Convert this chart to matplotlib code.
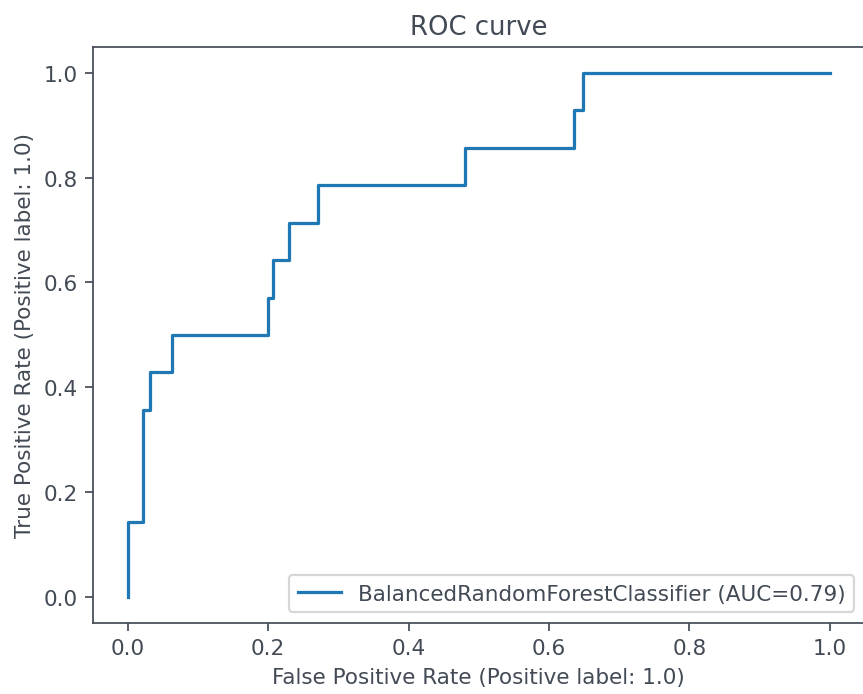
import numpy as np
import matplotlib.pyplot as plt

# ROC points (corners of the step curve)
fpr = [0.0, 0.0, 0.021, 0.021, 0.032, 0.032, 0.063, 0.063, 0.199, 0.199,
       0.207, 0.207, 0.229, 0.229, 0.271, 0.271, 0.480, 0.480, 0.636, 0.636,
       0.648, 0.648, 1.0]
tpr = [0.0, 0.143, 0.143, 0.357, 0.357, 0.429, 0.429, 0.500, 0.500, 0.571,
       0.571, 0.643, 0.643, 0.714, 0.714, 0.786, 0.786, 0.857, 0.857, 0.929,
       0.929, 1.0, 1.0]
model_name = "BalancedRandomForestClassifier"
auc_value = 0.79

txt = '#424a55'
plt.rcParams['text.color'] = txt
plt.rcParams['axes.labelcolor'] = txt
plt.rcParams['xtick.color'] = txt
plt.rcParams['ytick.color'] = txt
plt.rcParams['axes.edgecolor'] = txt

dpi = 155
fig = plt.figure(figsize=(863 / dpi, 695 / dpi), dpi=dpi)
ax = fig.add_axes([0.1074, 0.1022, 0.8949, 0.8292])

ax.plot(fpr, tpr, color='#1f77b4', lw=1.5,
        label=f"{model_name} (AUC={auc_value:.2f})")
ax.set_xlim(-0.05, 1.05)
ax.set_ylim(-0.05, 1.05)
ax.set_xticks(np.arange(0, 1.01, 0.2))
ax.set_yticks(np.arange(0, 1.01, 0.2))
ax.set_xlabel("False Positive Rate (Positive label: 1.0)")
ax.set_ylabel("True Positive Rate (Positive label: 1.0)")
ax.set_title("ROC curve")
ax.legend(loc='lower right')

fig.savefig('out.png', dpi=dpi)
